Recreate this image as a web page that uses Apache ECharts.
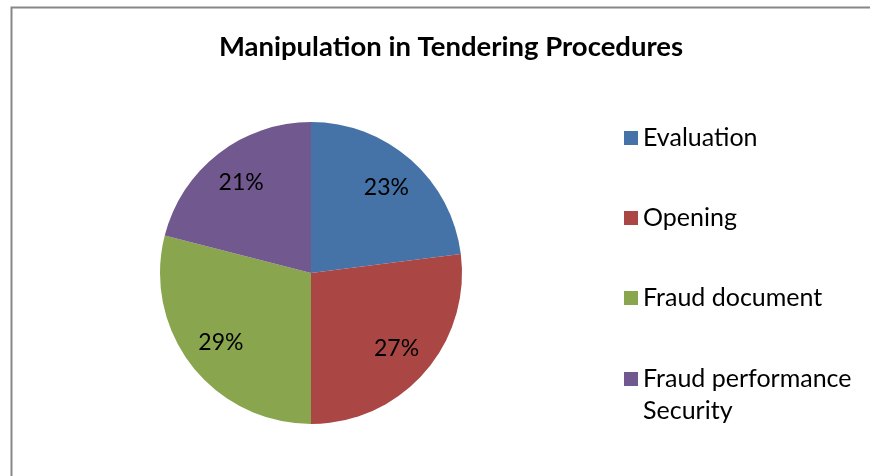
<!DOCTYPE html>
<html>
<head>
<meta charset="utf-8">
<script src="https://cdn.jsdelivr.net/npm/echarts@6/dist/echarts.min.js"></script>
<style>
  html, body { margin: 0; padding: 0; background: #fff; }
  #chart { width: 870px; height: 476px; }
</style>
</head>
<body>
<div id="chart"></div>
<script>
// data
const categories = ['Evaluation', 'Opening', 'Fraud document', 'Fraud performance Security'];
const shares = [23, 27, 29, 21];
const colors = ['#4572A7', '#AA4643', '#89A54E', '#71588F'];

const pieData = categories.map((name, i) => ({ name: name, value: shares[i] }));
const font = 'Lato';

var myChart = echarts.init(document.getElementById('chart'));
var option = {
    animation: false,
    color: colors,
    title: {
        text: 'Manipulation in Tendering Procedures',
        left: 446,
        top: 28,
        textAlign: 'center',
        textStyle: { fontFamily: font, fontWeight: 'bold', fontSize: 27.5, color: '#000' },
    },
    graphic: [
        {
            type: 'rect',
            shape: { x: 11.5, y: 7.5, width: 900, height: 500 },
            style: { fill: 'none', stroke: '#878787', lineWidth: 2 },
            silent: true,
        },
    ],
    legend: [
        {
            orient: 'vertical',
            left: 619,
            top: 117,
            data: categories.slice(0, 3),
            icon: 'rect',
            itemWidth: 14,
            itemHeight: 14,
            itemGap: 48,
            textStyle: { fontFamily: font, fontSize: 25, color: '#000', lineHeight: 32 },
        },
        {
            orient: 'vertical',
            left: 619,
            top: 326,
            data: categories.slice(3),
            icon: 'rect',
            itemWidth: 14,
            itemHeight: 14,
            // leading blank line keeps the icon level with the first line
            formatter: () => '\nFraud performance\nSecurity',
            textStyle: { fontFamily: font, fontSize: 25, color: '#000', lineHeight: 32 },
        },
    ],
    series: [
        {
            type: 'pie',
            center: [311, 273],
            radius: 151,
            startAngle: 90,
            clockwise: true,
            data: pieData,
            label: { show: false },
            labelLine: { show: false },
            emphasis: { disabled: true },
        },
        {
            // invisible ring so the percent labels sit at ~0.73 of the radius
            type: 'pie',
            center: [311, 273],
            radius: [71, 151],
            startAngle: 90,
            clockwise: true,
            silent: true,
            data: pieData,
            itemStyle: { color: 'rgba(0,0,0,0)' },
            label: {
                show: true,
                position: 'inside',
                formatter: '{c}%',
                fontFamily: font,
                fontSize: 23,
                color: '#000',
            },
            labelLine: { show: false },
        },
    ],
};

myChart.setOption(option);
</script>
</body>
</html>
